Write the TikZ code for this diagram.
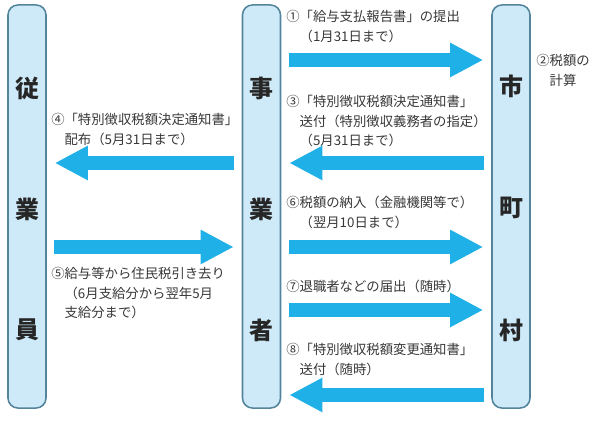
\documentclass[tikz,border=0pt]{standalone}
\usepackage{fontspec}
\setmainfont{Noto Sans CJK JP}
\usetikzlibrary{arrows.meta}
\definecolor{flowblue}{RGB}{30,176,230}
\definecolor{barfill}{RGB}{206,234,248}
\definecolor{barline}{RGB}{84,132,156}
\definecolor{txt}{RGB}{55,55,55}

\begin{document}
\begin{tikzpicture}[x=0.025cm,y=-0.025cm,
    bar/.style={draw=barline,fill=barfill,line width=1.1pt,rounded corners=0.25cm,
      minimum width=0.95cm,minimum height=10.075cm},
    big/.style={font=\fontsize{17pt}{17pt}\selectfont\bfseries,text=black!85},
    note/.style={anchor=north west,inner sep=0pt,align=left,text=txt,
      font=\fontsize{9.5pt}{14pt}\selectfont},
    flow/.style={draw=flowblue,line width=0.35cm,
      -{Triangle[length=0.825cm,width=0.8cm]},shorten <=1.9mm,shorten >=2mm}]

    \useasboundingbox (0,0) rectangle (600,425);

    % Bars
    \node[bar] (staff) at (27,206.5) {};
    \node[bar] (firm) at (261.5,206.5) {};
    \node[bar] (city) at (511,206.5) {};

    % Letters in the bars
    \node[big] (s1) at (staff |- 0,88) {従};
    \node[big] (s2) at (staff |- 0,209) {業};
    \node[big] (s3) at (staff |- 0,330) {員};
    \node[big] (f1) at (firm |- 0,88) {事};
    \node[big] (f2) at (firm |- 0,209) {業};
    \node[big] (f3) at (firm |- 0,330) {者};
    \node[big] (c1) at (city |- 0,86) {市};
    \node[big] (c2) at (city |- 0,208) {町};
    \node[big] (c3) at (city |- 0,330) {村};

    % Rows of the arrows
    \coordinate (r1) at (0,60);
    \coordinate (r3) at (0,163);
    \coordinate (r5) at (0,247);
    \coordinate (r7) at (0,310);
    \coordinate (r8) at (0,395);

    % Arrows
    \draw[flow] (firm.east |- r1) -- (city.west |- r1);
    \draw[flow] (city.west |- r3) -- (firm.east |- r3);
    \draw[flow] (firm.west |- r3) -- (staff.east |- r3);
    \draw[flow] (staff.east |- r5) -- (firm.west |- r5);
    \draw[flow] (firm.east |- r5) -- (city.west |- r5);
    \draw[flow] (firm.east |- r7) -- (city.west |- r7);
    \draw[flow] (city.west |- r8) -- (firm.east |- r8);

    % Labels
    \node[note] (n1) at (286,10) {①「給与支払報告書」の提出\\　（1月31日まで）};
    \node[note,align=center,anchor=north] (n2) at (563,54) {②税額の\\計算};
    \node[note] (n3) at (286,95) {③「特別徴収税額決定通知書」\\　送付（特別徴収義務者の指定）\\　（5月31日まで）};
    \node[note] (n4) at (51,113) {④「特別徴収税額決定通知書」\\　配布（5月31日まで）};
    \node[note] (n5) at (51,267) {⑤給与等から住民税引き去り\\　（6月支給分から翌年5月\\　支給分まで）};
    \node[note] (n6) at (286,196) {⑥税額の納入（金融機関等で）\\　（翌月10日まで）};
    \node[note] (n7) at (286,280) {⑦退職者などの届出（随時）};
    \node[note] (n8) at (286,343) {⑧「特別徴収税額変更通知書」\\　送付（随時）};

\end{tikzpicture}
\end{document}
